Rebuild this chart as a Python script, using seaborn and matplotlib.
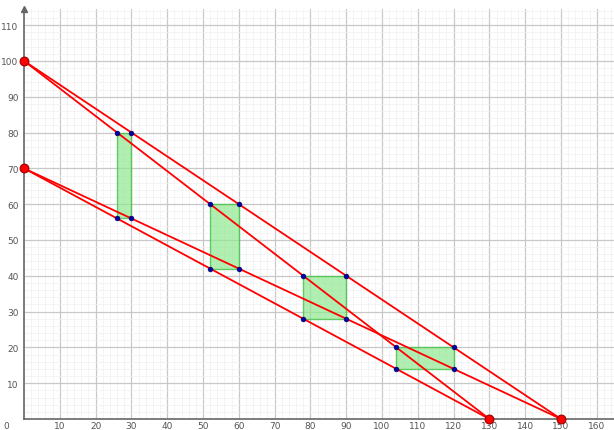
import matplotlib
matplotlib.use("Agg")
import matplotlib.pyplot as plt
import matplotlib.patches as mpatches
import seaborn as sns
import pandas as pd

# axis intercepts of the four red lines
y_intercepts = [100, 70]
x_intercepts = [130, 150]

# green rectangles (x from, x to, y low, y high)
rect_x0 = [26, 52, 78, 104]
rect_x1 = [30, 60, 90, 120]
rect_y0 = [56, 42, 28, 14]
rect_y1 = [80, 60, 40, 20]

x_ticks = list(range(10, 170, 10))
y_ticks = list(range(10, 120, 10))

sns.set_style("white")
fig = plt.figure(figsize=(6.14, 4.31), dpi=100)
ax = fig.add_axes([24 / 614, 11 / 431, 590 / 614, 410 / 431])

# lines
rows = []
for yi in y_intercepts:
    for xi in x_intercepts:
        name = f"{yi}-{xi}"
        rows.append({"line": name, "x": 0, "y": yi})
        rows.append({"line": name, "x": xi, "y": 0})
lines = pd.DataFrame(rows)
sns.lineplot(data=lines, x="x", y="y", units="line", estimator=None,
             color="#ff0000", linewidth=1.3, ax=ax, zorder=4, sort=False)

# rectangles
for x0, x1, y0, y1 in zip(rect_x0, rect_x1, rect_y0, rect_y1):
    ax.add_patch(mpatches.Rectangle((x0, y0), x1 - x0, y1 - y0,
                                    facecolor="#90e890", alpha=0.7,
                                    edgecolor="#33bb33", linewidth=1, zorder=3))

corners = pd.DataFrame({
    "x": rect_x0 + rect_x1 + rect_x0 + rect_x1,
    "y": rect_y1 + rect_y1 + rect_y0 + rect_y0,
})
sns.scatterplot(data=corners, x="x", y="y", color="#0000aa", s=12,
                edgecolor="#000055", linewidth=0.4, ax=ax, zorder=6)

ends = pd.DataFrame({
    "x": [0] * len(y_intercepts) + x_intercepts,
    "y": y_intercepts + [0] * len(x_intercepts),
})
sns.scatterplot(data=ends, x="x", y="y", color="#ff0000", s=40,
                edgecolor="#990000", linewidth=0.8, ax=ax, zorder=7, clip_on=False)

ax.set_xlim(0, 164.8)
ax.set_ylim(0, 114.5)

ax.set_xticks(x_ticks)
ax.set_yticks(y_ticks)
ax.set_xticks(range(0, 166, 2), minor=True)
ax.set_yticks(range(0, 116, 2), minor=True)
ax.grid(which="major", color="#c8c8c8", linewidth=0.9, zorder=0)
ax.grid(which="minor", color="#f0f0f0", linewidth=0.5, zorder=0)
ax.set_axisbelow(True)
ax.tick_params(which="both", length=0, labelsize=6.5, labelcolor="#555555")
ax.tick_params(axis="x", pad=1.5)
ax.tick_params(axis="y", pad=4)
ax.text(-5, -0.6, "0", ha="center", va="top", fontsize=6.5, color="#555555")
ax.set_xlabel("")
ax.set_ylabel("")

for side in ["top", "right"]:
    ax.spines[side].set_visible(False)
for side in ["left", "bottom"]:
    ax.spines[side].set_color("#666666")
    ax.spines[side].set_linewidth(1.2)

ax.plot(0, 1, marker="^", color="#666666", markersize=4,
        transform=ax.transAxes, clip_on=False)

fig.savefig("out.png", dpi=100)
